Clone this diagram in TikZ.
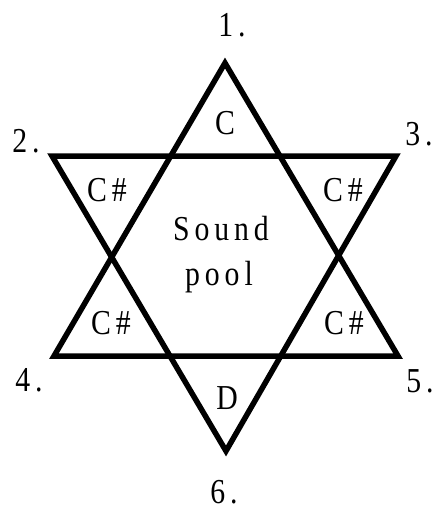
\documentclass[tikz,border=0pt]{standalone}
\usepackage{fontspec}
\setmainfont{Liberation Serif}
\newfontfamily\spaced[LetterSpace=14,FakeStretch=0.85]{Liberation Serif}
\begin{document}
\begin{tikzpicture}[x=1pt,y=-1pt,
  tri/.style={line width=5.5pt,line join=miter,miter limit=10},
  lbl/.style={font=\fontsize{35}{35}\selectfont\spaced,inner sep=0pt,anchor=center},
  num/.style={font=\fontsize{35}{35}\selectfont\spaced,inner sep=0pt,anchor=center}]
\useasboundingbox (0,0) rectangle (433,511);
% upward triangle
\coordinate (u1) at (225,63);
\coordinate (u2) at (54,356);
\coordinate (u3) at (398,356);
% downward triangle
\coordinate (d1) at (52,156);
\coordinate (d2) at (396,156);
\coordinate (d3) at (226,451);
\draw[tri] (u1) -- (u2) -- (u3) -- cycle;
\draw[tri] (d1) -- (d2) -- (d3) -- cycle;
% numbers
\node[num] (n1) at (232,25) {1.};
\node[num] (n2) at (26,141) {2.};
\node[num] (n3) at (419,134) {3.};
\node[num] (n4) at (29,380) {4.};
\node[num] (n5) at (420,381) {5.};
\node[num] (n6) at (224,492) {6.};
% notes
\node[lbl] (c1) at (225,123) {C};
\node[lbl] (c2) at (107,190) {C\#};
\node[lbl] (c3) at (343,190) {C\#};
\node[lbl] (c4) at (111,323) {C\#};
\node[lbl] (c5) at (344,323) {C\#};
\node[lbl] (dd) at (227,398) {D};
\node[lbl,anchor=base] (s1) at (221,240) {Sound};
\node[lbl,anchor=base] (s2) at (219,285) {pool};
\end{tikzpicture}
\end{document}
